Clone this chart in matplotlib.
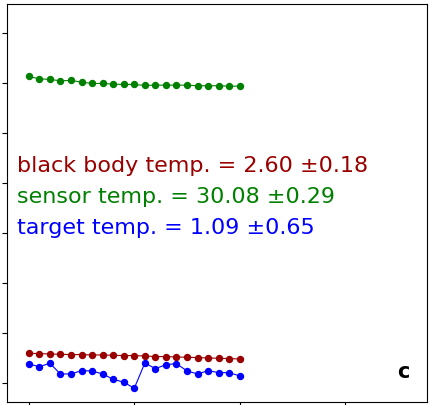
import numpy as np
import matplotlib
matplotlib.use("Agg")
import matplotlib.pyplot as plt

# ---------------------- DATA ----------------------
frames = np.arange(21)

black_body = [2.94, 2.91, 2.87, 2.84, 2.81, 2.81, 2.77, 2.77, 2.74, 2.71, 2.71,
              2.67, 2.61, 2.61, 2.57, 2.54, 2.51, 2.47, 2.44, 2.41, 2.37]
sensor = [30.67, 30.44, 30.37, 30.24, 30.27, 30.10, 29.97, 29.97, 29.90, 29.87, 29.87,
          29.77, 29.80, 29.80, 29.80, 29.80, 29.74, 29.74, 29.74, 29.70, 29.70]
target = [1.87, 1.60, 1.94, 0.87, 0.87, 1.20, 1.17, 0.87, 0.34, 0.04, -0.56,
          1.97, 1.40, 1.80, 1.90, 1.17, 0.87, 1.20, 1.00, 1.00, 0.67]

labels = ["black body temp. = 2.60 \u00b10.18",
          "sensor temp. = 30.08 \u00b10.29",
          "target temp. = 1.09 \u00b10.65"]
colors = ["#990000", "#008000", "#0000ff"]

# ---------------------- PLOT ----------------------
fig = plt.figure(figsize=(4.36, 4.05), dpi=100)
ax = fig.add_axes([0.0154, 0.0074, 0.963, 0.982])

for series, col in zip([black_body, sensor, target], colors):
    ax.plot(frames, series, "-o", color=col, markersize=4.3, linewidth=0.8)

ax.set_xlim(-2.09, 37.7)
ax.set_ylim(-1.94, 37.9)
ax.set_xticks([0, 10, 20, 30])
ax.set_yticks(np.arange(0, 40, 5))
ax.set_xticklabels([])
ax.set_yticklabels([])

for y, txt, col in zip([0.579, 0.4996, 0.4224], labels, colors):
    ax.text(0.024, y, txt, color=col, fontsize=16, transform=ax.transAxes, va="baseline")

ax.text(0.93, 0.060, "c", fontsize=15, fontweight="bold", transform=ax.transAxes, va="baseline")

fig.savefig("out.png", dpi=100)
